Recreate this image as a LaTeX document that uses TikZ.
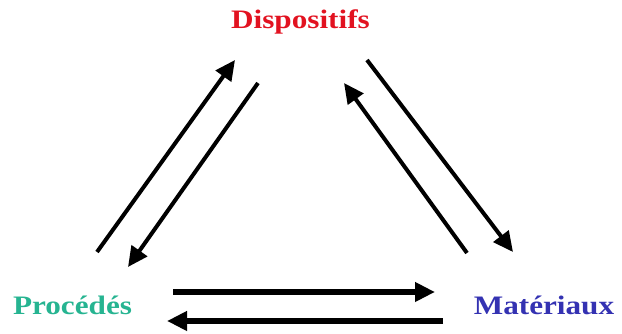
\documentclass[tikz,border=0pt]{standalone}
\usepackage{fontspec}
\setmainfont{Liberation Serif}
\usetikzlibrary{arrows.meta, positioning}

\definecolor{dispred}{RGB}{226,18,32}
\definecolor{procteal}{RGB}{38,180,145}
\definecolor{matblue}{RGB}{52,50,178}

\begin{document}
\begin{tikzpicture}[x=0.75pt, y=-0.75pt,
    label/.style={anchor=base, inner sep=0pt, font=\fontsize{20}{24}\selectfont\bfseries},
    flow/.style={line width=3pt, -{Triangle[length=15pt, width=14pt]}},
    flowthick/.style={line width=4.5pt, -{Triangle[length=15pt, width=14pt]}}]
    \path[use as bounding box] (0,0) rectangle (622,334);

    % the three poles
    \node[label, text=dispred] (disp) at (300.5,29) {\scalebox{1.17}[1]{Dispositifs}};
    \node[label, text=procteal] (proc) at (72.5,315) {\scalebox{1.17}[1]{Procédés}};
    \node[label, text=matblue] (mat) at (544,315) {\scalebox{1.17}[1]{Matériaux}};

    % arrow ends
    \coordinate (pd_a) at (97,252);  \coordinate (pd_b) at (235,60);
    \coordinate (dp_a) at (258,83);  \coordinate (dp_b) at (128,267);
    \coordinate (dm_a) at (367,60);  \coordinate (dm_b) at (513,252);
    \coordinate (md_a) at (467,253); \coordinate (md_b) at (344,83);
    \coordinate (pm_a) at (173,292); \coordinate (pm_b) at (435,292);
    \coordinate (mp_a) at (443,321); \coordinate (mp_b) at (167,321);

    \draw[flow] (pd_a) -- (pd_b);
    \draw[flow] (dp_a) -- (dp_b);
    \draw[flow] (dm_a) -- (dm_b);
    \draw[flow] (md_a) -- (md_b);
    \draw[flowthick] (pm_a) -- (pm_b);
    \draw[flowthick] (mp_a) -- (mp_b);

\end{tikzpicture}
\end{document}
